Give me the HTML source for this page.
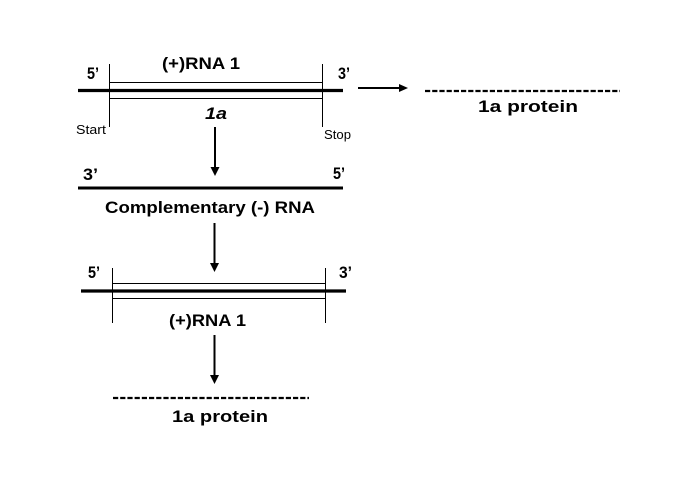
<!DOCTYPE html>
<html>
<head>
<meta charset="utf-8">
<style>
  html,body{margin:0;padding:0;background:#fff;}
  svg{display:block;}
  text{font-family:"Liberation Sans",Arial,sans-serif;fill:#000;}
  .b{font-weight:bold;font-size:17px;}
  .s{font-size:13px;}
</style>
</head>
<body>
<svg width="700" height="480" viewBox="0 0 700 480" xmlns="http://www.w3.org/2000/svg">
  <rect width="700" height="480" fill="#fff"/>

  <!-- Top strand -->
  <line x1="78" y1="90.5" x2="343" y2="90.5" stroke="#000" stroke-width="3.2"/>
  <line x1="109" y1="82.5" x2="322.5" y2="82.5" stroke="#000" stroke-width="1"/>
  <line x1="109" y1="98.5" x2="322.5" y2="98.5" stroke="#000" stroke-width="1"/>
  <line x1="109.5" y1="64" x2="109.5" y2="127" stroke="#000" stroke-width="1"/>
  <line x1="322.5" y1="64" x2="322.5" y2="127" stroke="#000" stroke-width="1"/>

  <text class="b" x="162" y="69" textLength="78" lengthAdjust="spacingAndGlyphs">(+)RNA 1</text>
  <text class="b" x="87" y="79" textLength="12" lengthAdjust="spacingAndGlyphs">5’</text>
  <text class="b" x="338" y="79" textLength="12" lengthAdjust="spacingAndGlyphs">3’</text>
  <text class="b" x="205" y="119" font-style="italic" textLength="22" lengthAdjust="spacingAndGlyphs">1a</text>
  <text class="s" x="76" y="134" textLength="30" lengthAdjust="spacingAndGlyphs">Start</text>
  <text class="s" x="324" y="139" textLength="27" lengthAdjust="spacingAndGlyphs">Stop</text>

  <!-- Horizontal arrow -->
  <line x1="358" y1="88" x2="400" y2="88" stroke="#000" stroke-width="2"/>
  <polygon points="399,84 408,88 399,92" fill="#000"/>

  <!-- Top right protein -->
  <line x1="425" y1="91" x2="620" y2="91" stroke="#000" stroke-width="2.2" stroke-dasharray="5.2 2"/>
  <text class="b" x="478" y="112" textLength="100" lengthAdjust="spacingAndGlyphs">1a protein</text>

  <!-- Arrow 1 -->
  <line x1="215" y1="127" x2="215" y2="168" stroke="#000" stroke-width="2"/>
  <polygon points="210.5,167 219.5,167 215,176" fill="#000"/>

  <!-- Complementary strand -->
  <line x1="78" y1="188" x2="343" y2="188" stroke="#000" stroke-width="3"/>
  <text class="b" x="83" y="180" textLength="15" lengthAdjust="spacingAndGlyphs">3’</text>
  <text class="b" x="333" y="179" textLength="12" lengthAdjust="spacingAndGlyphs">5’</text>
  <text class="b" x="105" y="213" textLength="210" lengthAdjust="spacingAndGlyphs">Complementary (-) RNA</text>

  <!-- Arrow 2 -->
  <line x1="214.5" y1="223" x2="214.5" y2="264" stroke="#000" stroke-width="2"/>
  <polygon points="210,263 219,263 214.5,272" fill="#000"/>

  <!-- Lower strand -->
  <line x1="81" y1="291" x2="346" y2="291" stroke="#000" stroke-width="3.2"/>
  <line x1="112.5" y1="283.5" x2="325.5" y2="283.5" stroke="#000" stroke-width="1"/>
  <line x1="112.5" y1="298.5" x2="325.5" y2="298.5" stroke="#000" stroke-width="1"/>
  <line x1="112.5" y1="268" x2="112.5" y2="323" stroke="#000" stroke-width="1"/>
  <line x1="325.5" y1="268" x2="325.5" y2="323" stroke="#000" stroke-width="1"/>
  <text class="b" x="88" y="278" textLength="12" lengthAdjust="spacingAndGlyphs">5’</text>
  <text class="b" x="339" y="278" textLength="13" lengthAdjust="spacingAndGlyphs">3’</text>
  <text class="b" x="169" y="326" textLength="77" lengthAdjust="spacingAndGlyphs">(+)RNA 1</text>

  <!-- Arrow 3 -->
  <line x1="214.5" y1="335" x2="214.5" y2="376" stroke="#000" stroke-width="2"/>
  <polygon points="210,375 219,375 214.5,384" fill="#000"/>

  <!-- Bottom protein -->
  <line x1="113" y1="398" x2="309" y2="398" stroke="#000" stroke-width="2.2" stroke-dasharray="5.2 2"/>
  <text class="b" x="172" y="422" textLength="96" lengthAdjust="spacingAndGlyphs">1a protein</text>
</svg>
</body>
</html>
